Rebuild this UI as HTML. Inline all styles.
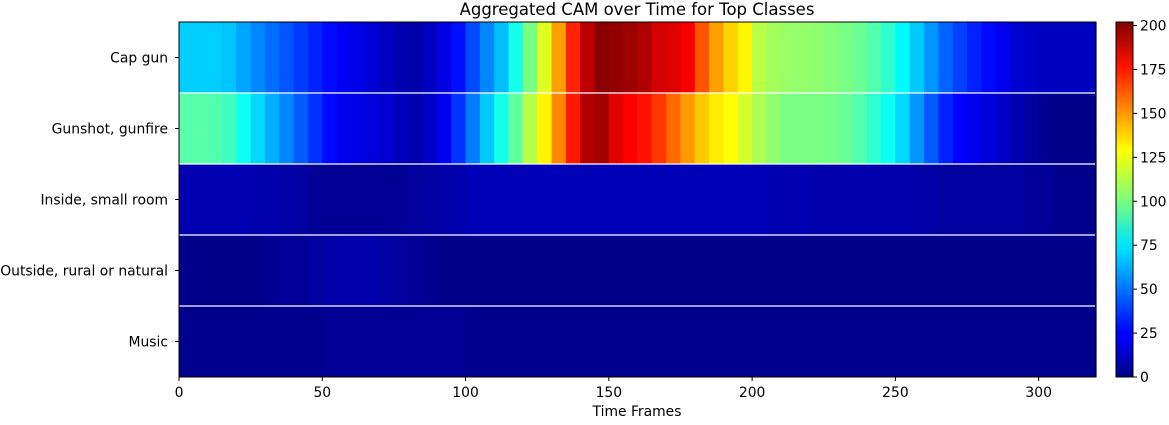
<!DOCTYPE html>
<html><head><meta charset="utf-8"><style>
body{margin:0;background:#fff;}
svg text{font-family:"DejaVu Sans","Liberation Sans",sans-serif;font-size:13.9px;fill:#000;}
</style></head><body>
<svg id="chart" width="1169" height="420" xmlns="http://www.w3.org/2000/svg">
<text x="637" y="15" text-anchor="middle" style="font-size:16.5px">Aggregated CAM over Time for Top Classes</text>
<g id="cells"></g>
<g id="seps"></g>
<rect x="179" y="22" width="917" height="355" fill="none" stroke="#000" stroke-width="1"/>
<g id="xaxis"></g>
<g id="yaxis"></g>
<text x="637" y="416" text-anchor="middle">Time Frames</text>
<defs><linearGradient id="jet" x1="0" y1="1" x2="0" y2="0">
<stop offset="0" stop-color="#000080"/><stop offset="0.11" stop-color="#0000ff"/><stop offset="0.125" stop-color="#0000ff"/>
<stop offset="0.36" stop-color="#00dfff"/><stop offset="0.375" stop-color="#00e5f8"/><stop offset="0.5" stop-color="#7dff7a"/>
<stop offset="0.64" stop-color="#ffff00"/><stop offset="0.875" stop-color="#ff1300"/><stop offset="1" stop-color="#800000"/>
</linearGradient></defs>
<rect x="1116" y="22" width="17" height="355" fill="url(#jet)" stroke="#000" stroke-width="1"/>
<g id="cbar"></g>
</svg>
<script>
const classes = ["Cap gun","Gunshot, gunfire","Inside, small room","Outside, rural or natural","Music"];
const frameStep = 5;
const capGun = [66,66,66,64,58,52,47,42,37,32,27,23,20,17,13,10,8,13,20,28,40,52,63,80,100,120,145,170,190,200,198,196,192,185,183,178,160,145,135,128,112,108,106,105,104,102,100,97,92,85,75,65,55,45,38,32,27,22,16,14,13,13,13,13];
const gunshot = [93,93,92,88,78,68,60,52,43,35,27,22,20,18,16,12,9,15,22,35,50,65,80,95,112,128,150,172,192,195,183,177,173,166,156,146,137,130,126,118,110,104,100,100,100,99,97,92,85,78,68,55,43,32,25,22,18,14,10,6,3,2,2,2];
const insideRoom = [10,10,10,10,10,9,9,8,7,4,4,4,4,4,4,4,6,7,8,9,11,11,11,11,11,11,11,11,11,11,11,11,11,11,11,11,11,11,11,11,11,10,10,10,9,9,9,9,9,9,9,8,8,6,6,6,6,6,6,5,5,3,3,3];
const outside = [2,2,2,2,2,2,4,5,5,6,8,9,9,9,7,6,5,3,2,2,2,2,2,2,2,2,2,2,2,2,2,2,2,2,2,2,2,2,2,2,2,2,2,2,2,2,2,2,2,2,2,2,2,2,2,2,2,2,2,2,2,2,2,2];
const music = [3,3,3,3,3,3,3,3,3,3,4,4,4,4,4,4,4,4,4,4,3,3,3,3,3,3,3,3,3,3,3,3,3,3,3,3,3,3,3,3,3,3,3,3,3,3,3,3,3,3,3,3,3,3,3,3,3,3,3,3,3,3,3,3];
const series = [capGun,gunshot,insideRoom,outside,music];
const xTicks = [0,50,100,150,200,250,300];
const cTicks = [0,25,50,75,100,125,150,175,200];
const nFrames = 320, vmax = 202;
const NS="http://www.w3.org/2000/svg";
const X0=179,X1=1096,Y0=22,Y1=377;
const xs = f => X0 + f/nFrames*(X1-X0);
const rowH = (Y1-Y0)/classes.length;
const cy = v => Y1 - v/vmax*(Y1-Y0);
function jet(v){const t=Math.max(0,Math.min(1,v/vmax));
 const c=x=>Math.round(255*Math.max(0,Math.min(1,x)));
 return `rgb(${c(1.5-Math.abs(4*t-3))},${c(1.5-Math.abs(4*t-2))},${c(1.5-Math.abs(4*t-1))})`;}
function mk(tag,attrs,parent){const e=document.createElementNS(NS,tag);for(const k in attrs)e.setAttribute(k,attrs[k]);parent.appendChild(e);return e;}
const cells=document.getElementById('cells');
series.forEach((s,r)=>{s.forEach((v,i)=>{
 const x=xs(i*frameStep), w=xs((i+1)*frameStep)-x;
 const e=mk('rect',{x:x,y:Y0+r*rowH,width:w+0.6,height:rowH,fill:jet(v)},cells);
 
 
});});
const seps=document.getElementById('seps');
for(let r=1;r<classes.length;r++){const y=Y0+r*rowH;
 const e=mk('line',{x1:X0,x2:X1-1,y1:y,y2:y,stroke:'#fff','stroke-width':1.2},seps);
 
 }
const xa=document.getElementById('xaxis');
xTicks.forEach(t=>{const x=xs(t);
 mk('line',{x1:x,x2:x,y1:Y1,y2:Y1+4,stroke:'#000'},xa);
 const e=mk('text',{x:x,y:Y1+20,'text-anchor':'middle'},xa);e.textContent=t;
 
 });
const ya=document.getElementById('yaxis');
classes.forEach((c,r)=>{const y=Y0+(r+0.5)*rowH;
 mk('line',{x1:X0-4,x2:X0,y1:y,y2:y,stroke:'#000'},ya);
 const e=mk('text',{x:X0-11,y:y+5,'text-anchor':'end'},ya);e.textContent=c;
 
 });
const cb=document.getElementById('cbar');
cTicks.forEach(t=>{const y=cy(t);
 mk('line',{x1:1133,x2:1137,y1:y,y2:y,stroke:'#000'},cb);
 const e=mk('text',{x:1140,y:y+5},cb);e.textContent=t;
 
 });
</script>
</body></html>
